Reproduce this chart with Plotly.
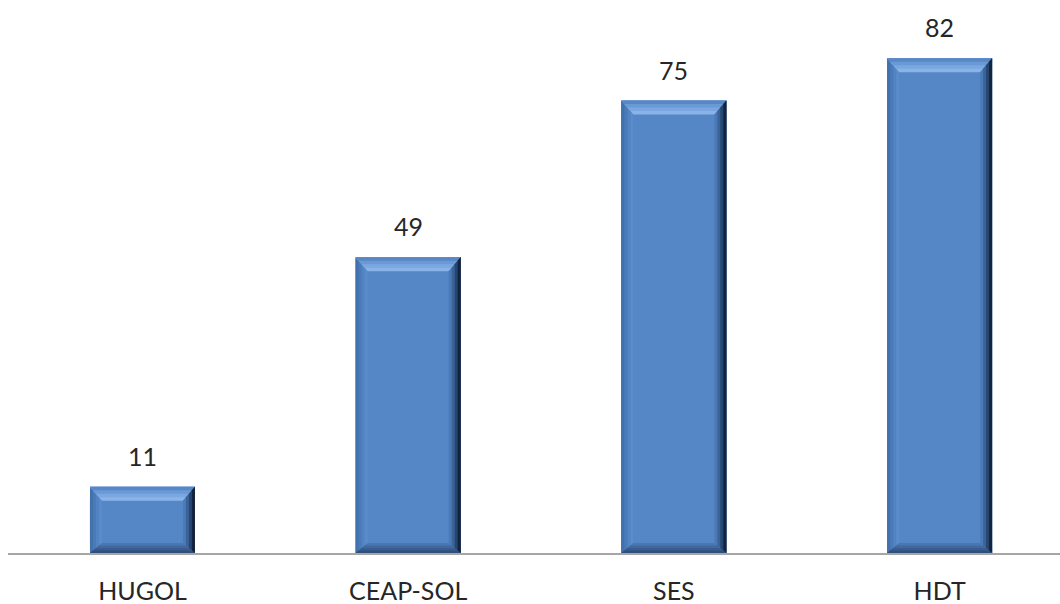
import plotly.graph_objects as go

categories = ["HUGOL", "CEAP-SOL", "SES", "HDT"]
values = [11, 49, 75, 82]

# layout constants
W, H = 1060, 604
ML, MR, MT, MB = 8, 0, 10, 51
XR = [-0.506, 3.453]
YR = [0, 90]
BAR_W = 0.395

xppu = (W - ML - MR) / (XR[1] - XR[0])
yppu = (H - MT - MB) / (YR[1] - YR[0])

FACE = "#5587C6"
# gradient colours for each bevel, from inner to outer edge
TOP_COLS = ["#8AB4E8", "#7AA7E0", "#699AD6", "#5886C6"]
LEFT_COLS = ["#5A8BCB", "#5283C2", "#4A7AB8", "#4272AE"]
RIGHT_COLS = ["#4B7AB6", "#3A6399", "#274670", "#15243D"]
BOTTOM_COLS = ["#4A77B2", "#41699F", "#385C8D", "#2F4F7C"]

FONT = "Lato, 'Open Sans', sans-serif"

xs = list(range(len(categories)))

fig = go.Figure()
fig.add_trace(go.Bar(
    x=xs, y=values, width=BAR_W,
    marker=dict(color=FACE, line=dict(width=0)),
    hoverinfo="skip", showlegend=False,
))

bt = 14 / yppu
bs = 12 / xppu
br = 12 / xppu
bb = 10 / yppu

def poly(pts, color):
    d = "M " + " L ".join(f"{x},{y}" for x, y in pts) + " Z"
    return dict(type="path", path=d, xref="x", yref="y", fillcolor=color,
                line=dict(width=0), layer="above")

def strip(side, L, R, T, B, f, color):
    if side == "top":
        pts = [(L, T), (R, T), (R - br * f, T - bt * f), (L + bs * f, T - bt * f)]
    elif side == "left":
        pts = [(L, T), (L + bs * f, T - bt * f), (L + bs * f, B + bb * f), (L, B)]
    elif side == "right":
        pts = [(R, T), (R, B), (R - br * f, B + bb * f), (R - br * f, T - bt * f)]
    else:
        pts = [(L, B), (R, B), (R - br * f, B + bb * f), (L + bs * f, B + bb * f)]
    return poly(pts, color)

shapes = []
fracs = [1.0, 0.75, 0.5, 0.25]
for xi, v in zip(xs, values):
    L = xi - BAR_W / 2
    R = xi + BAR_W / 2
    T = v
    B = 0
    for side, cols in (("left", LEFT_COLS), ("bottom", BOTTOM_COLS),
                       ("top", TOP_COLS), ("right", RIGHT_COLS)):
        for f, c in zip(fracs, cols):
            shapes.append(strip(side, L, R, T, B, f, c))

annotations = []
for xi, v in zip(xs, values):
    annotations.append(dict(
        x=xi, y=v, xref="x", yref="y", text=str(v), showarrow=False,
        yanchor="bottom", yshift=14,
        font=dict(family=FONT, size=25, color="#262626"),
    ))

fig.update_layout(
    width=W, height=H,
    margin=dict(l=ML, r=MR, t=MT, b=MB, autoexpand=False),
    paper_bgcolor="white", plot_bgcolor="white",
    shapes=shapes, annotations=annotations,
    bargap=0,
    xaxis=dict(
        range=XR, tickvals=xs, ticktext=categories,
        showgrid=False, zeroline=False, automargin=False,
        showline=True, linecolor="#A6A6A6", linewidth=2,
        ticks="outside", ticklen=15, tickcolor="rgba(0,0,0,0)",
        tickfont=dict(family=FONT, size=25, color="#262626"),
        fixedrange=True,
    ),
    yaxis=dict(
        range=YR, visible=False, showgrid=False, zeroline=False,
        automargin=False, fixedrange=True,
    ),
)

fig.write_html("out.html", config={"displayModeBar": False})
